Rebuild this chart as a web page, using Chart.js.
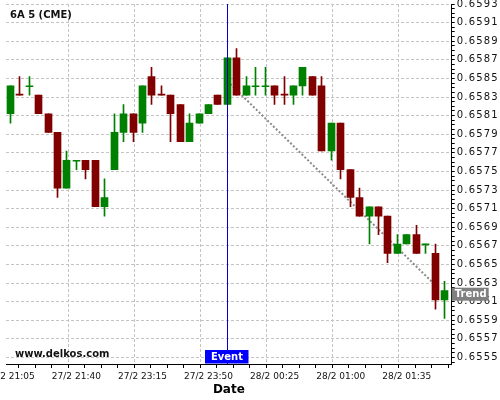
<!DOCTYPE html>
<html><head><meta charset="utf-8">
<script src="https://cdn.jsdelivr.net/npm/chart.js@4/dist/chart.umd.min.js"></script>
<style>html,body{margin:0;padding:0;background:#fff;}#wrap{width:500px;height:400px;}</style>
</head><body><div id="wrap"><canvas id="c" width="500" height="400"></canvas></div>
<script>
const chartTitle = '6A 5 (CME)';
const watermark = 'www.delkos.com';
const xTitle = 'Date';
const eventLabel = 'Event';
const trendLabel = 'Trend';
const eventIndex = 23;

const timeLabels = [
 '27/2 21:05','27/2 21:10','27/2 21:15','27/2 21:20','27/2 21:25','27/2 21:30','27/2 21:35',
 '27/2 21:40','27/2 21:45','27/2 21:50','27/2 21:55','27/2 23:00','27/2 23:05','27/2 23:10',
 '27/2 23:15','27/2 23:20','27/2 23:25','27/2 23:30','27/2 23:35','27/2 23:40','27/2 23:45',
 '27/2 23:50','27/2 23:55','28/2 00:00','28/2 00:05','28/2 00:10','28/2 00:15','28/2 00:20',
 '28/2 00:25','28/2 00:30','28/2 00:35','28/2 00:40','28/2 00:45','28/2 00:50','28/2 00:55',
 '28/2 01:00','28/2 01:05','28/2 01:10','28/2 01:15','28/2 01:20','28/2 01:25','28/2 01:30',
 '28/2 01:35','28/2 01:40','28/2 01:45','28/2 01:50','28/2 01:55'
];
const opens  = [0.65812,0.65833,0.65841,0.65832,0.65812,0.65792,0.65732,0.65761,0.65762,0.65762,0.65712,0.65752,0.65792,0.65812,0.65802,0.65852,0.65833,0.65832,0.65822,0.65782,0.65802,0.65812,0.65832,0.65822,0.65872,0.65832,0.65841,0.65841,0.65842,0.65833,0.65832,0.65842,0.65852,0.65842,0.65772,0.65802,0.65752,0.65722,0.65702,0.65712,0.65702,0.65662,0.65672,0.65682,0.65671,0.65662,0.65612];
const highs  = [0.65842,0.65852,0.65852,0.65832,0.65812,0.65792,0.65772,0.65762,0.65762,0.65762,0.65742,0.65812,0.65822,0.65812,0.65842,0.65862,0.65842,0.65832,0.65822,0.65812,0.65812,0.65822,0.65832,0.65872,0.65882,0.65852,0.65862,0.65862,0.65842,0.65852,0.65842,0.65862,0.65852,0.65852,0.65802,0.65802,0.65752,0.65732,0.65712,0.65712,0.65702,0.65682,0.65682,0.65692,0.65672,0.65672,0.65632];
const lows   = [0.65802,0.65832,0.65832,0.65812,0.65792,0.65722,0.65732,0.65752,0.65742,0.65712,0.65702,0.65752,0.65782,0.65782,0.65792,0.65822,0.65832,0.65782,0.65782,0.65782,0.65802,0.65812,0.65822,0.65822,0.65832,0.65832,0.65832,0.65832,0.65822,0.65822,0.65822,0.65832,0.65832,0.65772,0.65762,0.65742,0.65712,0.65702,0.65672,0.65682,0.65652,0.65662,0.65672,0.65662,0.65662,0.65602,0.65592];
const closes = [0.65842,0.65832,0.65842,0.65812,0.65792,0.65732,0.65762,0.65762,0.65752,0.65712,0.65722,0.65792,0.65812,0.65792,0.65842,0.65832,0.65832,0.65812,0.65782,0.65802,0.65812,0.65822,0.65822,0.65872,0.65832,0.65842,0.65842,0.65842,0.65832,0.65832,0.65842,0.65862,0.65832,0.65772,0.65802,0.65752,0.65722,0.65702,0.65712,0.65702,0.65662,0.65672,0.65682,0.65662,0.65672,0.65612,0.65622];
const trendIdx  = [23, 45];
const trendVals = [0.65847, 0.65628];
const priceTicks = ['0.6555','0.6557','0.6559','0.6561','0.6563','0.6565','0.6567','0.6569','0.6571','0.6573','0.6575','0.6577','0.6579','0.6581','0.6583','0.6585','0.6587','0.6589','0.6591','0.6593'];

const UP = '#008000', DOWN = '#800000';
const colors = opens.map((o, i) => closes[i] >= o ? UP : DOWN);
const FONT = 'DejaVu Sans';
const isMajorX = v => Math.abs(v / 7 - Math.round(v / 7)) < 1e-6 && v >= 0;

const snapBars = {
  id: 'snapBars',
  afterDatasetsUpdate(chart) {
    chart.data.datasets.forEach((ds, di) => {
      if (ds.type !== 'bar') return;
      chart.getDatasetMeta(di).data.forEach(el => { el.x = Math.floor(el.x) + 0.5; });
    });
  }
};

const ySpacing = {
  id: 'ySpacing',
  afterLayout(chart) {
    const s = chart.scales.y;
    if (!s._patched) {
      const orig = s.drawLabels;
      s.drawLabels = function (area) {
        const ctx = this.ctx; ctx.save();
        try { ctx.letterSpacing = '1.2px'; } catch (e) {}
        orig.call(this, area); ctx.restore();
      };
      s._patched = true;
    }
  }
};

const overlay = {
  id: 'overlay',
  afterDatasetsDraw(chart) {
    const {ctx, chartArea: a, scales: {x, y}} = chart;
    ctx.save();
    const ex = Math.floor(x.getPixelForValue(eventIndex)) + 0.5;
    ctx.strokeStyle = '#0000cc'; ctx.lineWidth = 1;
    ctx.beginPath(); ctx.moveTo(ex, a.top); ctx.lineTo(ex, a.bottom); ctx.stroke();
    ctx.font = 'bold 10px "' + FONT + '"';
    ctx.textBaseline = 'middle'; ctx.textAlign = 'center';
    ctx.fillStyle = '#0000ff';
    ctx.fillRect(ex - 22.5, a.bottom - 14, 43.5, 13.5);
    ctx.fillStyle = '#fff';
    ctx.fillText(eventLabel, ex - 0.5, a.bottom - 7);
    const lastI = timeLabels.length - 1;
    const tv = trendVals[0] + (trendVals[1] - trendVals[0]) * (lastI - trendIdx[0]) / (trendIdx[1] - trendIdx[0]);
    const ty = y.getPixelForValue(tv);
    ctx.fillStyle = '#808080';
    ctx.fillRect(a.right, ty - 6.5, 37, 13);
    ctx.fillStyle = '#fff';
    ctx.fillText(trendLabel, a.right + 19, ty + 0.5);
    ctx.fillStyle = '#111'; ctx.textAlign = 'left';
    ctx.fillText(chartTitle, 10, 15.5);
    ctx.fillText(watermark, 15, 354);
    ctx.restore();
  }
};

new Chart(document.getElementById('c'), {
  type: 'bar',
  data: {
    datasets: [
      {
        type: 'line', label: 'trend',
        data: trendIdx.map((t, k) => ({x: t, y: trendVals[k]})),
        borderColor: '#8a8a8a', borderWidth: 2, borderDash: [2, 2],
        pointRadius: 0, fill: false, order: 3
      },
      {
        type: 'bar', label: 'wick',
        data: timeLabels.map((_, i) => ({x: i, y: [lows[i], highs[i]]})),
        backgroundColor: colors, borderWidth: 0, barThickness: 1,
        grouped: false, order: 2
      },
      {
        type: 'bar', label: 'body',
        data: timeLabels.map((_, i) => ({x: i, y: [opens[i], closes[i]]})),
        backgroundColor: colors, borderWidth: 0, barThickness: 7, minBarLength: 1,
        grouped: false, order: 1
      }
    ]
  },
  options: {
    responsive: false, animation: false, devicePixelRatio: 1,
    layout: {padding: {left: 6, top: 4, right: 0, bottom: 0}},
    plugins: {legend: {display: false}, tooltip: {enabled: false}},
    scales: {
      x: {
        type: 'linear', min: -0.455, max: 46.76, offset: false,
        afterBuildTicks: s => {
          const t = [];
          for (let k = 0; k * 1.75 <= s.max; k++) t.push({value: k * 1.75});
          s.ticks = t;
        },
        ticks: {
          autoSkip: false, maxRotation: 0, minRotation: 0, padding: 3,
          font: {family: FONT, size: 9}, color: '#111',
          callback: v => isMajorX(v) ? timeLabels[Math.round(v)] : ''
        },
        grid: {
          color: c => (c.tick && isMajorX(c.tick.value)) ? '#c4c4c4' : 'rgba(0,0,0,0)',
          tickColor: '#000', tickLength: 4, lineWidth: 1
        },
        border: {display: true, color: '#000', width: 1, dash: [3, 2]},
        title: {display: true, text: xTitle, color: '#000', font: {family: FONT, size: 12, weight: 'bold'}, padding: {top: 0, bottom: 3}},
        afterFit: s => { s.height = 36; s.paddingLeft = 0; s.paddingRight = 0; }
      },
      y: {
        position: 'right', min: 0.65543, max: 0.65930,
        afterBuildTicks: s => {
          const t = [{value: 0.65545}];
          priceTicks.forEach(p => {
            const v = parseFloat(p);
            t.push({value: v, lbl: p});
            [1, 2, 3].forEach(m => { const w = v + m * 0.00005; if (w < s.max) t.push({value: w}); });
          });
          s.ticks = t;
        },
        ticks: {
          autoSkip: false, padding: 2, font: {family: FONT, size: 10}, color: '#111',
          callback: (v, i, ticks) => ticks[i].lbl || ''
        },
        grid: {
          color: c => (c.tick && c.tick.lbl) ? '#c4c4c4' : 'rgba(0,0,0,0)',
          tickColor: '#000', tickLength: 3, lineWidth: 1
        },
        border: {display: true, color: '#000', width: 1, dash: [3, 2]},
        afterFit: s => { s.width = 48.3; s.paddingTop = 0; s.paddingBottom = 0; }
      }
    }
  },
  plugins: [snapBars, ySpacing, overlay]
});
</script></body></html>
